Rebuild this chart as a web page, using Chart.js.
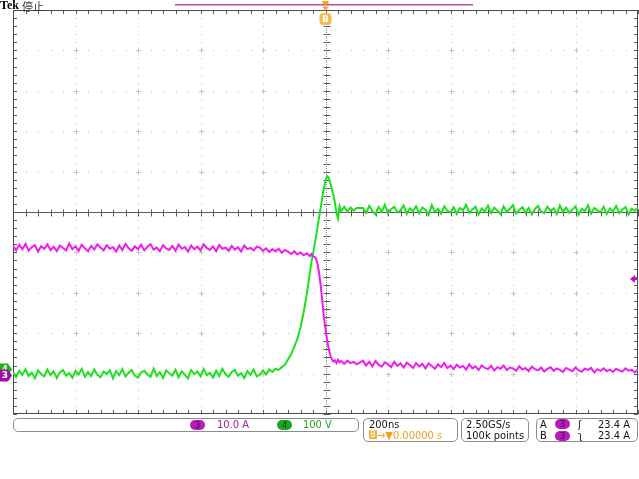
<!DOCTYPE html>
<html>
<head>
<meta charset="utf-8">
<script src="https://cdn.jsdelivr.net/npm/chart.js@4.4.1/dist/chart.umd.min.js"></script>
<style>
  html, body { margin: 0; padding: 0; background: #fff; }
  #wrap { position: relative; width: 639px; height: 479px; overflow: hidden;
          font-family: "DejaVu Sans Condensed", "DejaVu Sans", sans-serif; font-stretch: condensed; font-size: 11px; }
  #scope { position: absolute; left: 0; top: 0; }
  .lbl { position: absolute; white-space: nowrap; line-height: 11px; }
  .box { position: absolute; border: 1px solid #8c8c8c; border-radius: 5px; box-sizing: border-box; }
  .pill { position: absolute; width: 15px; height: 10px; border-radius: 5px; font-size: 9px;
          line-height: 10px; text-align: center; }
</style>
</head>
<body>
<div id="wrap">
  <canvas id="scope" width="639" height="479"></canvas>

  <div class="lbl" style="left:0;top:-2px;font:bold 12px 'Liberation Serif',serif;">Tek</div>
  <div class="lbl" style="left:22px;top:-2px;font:11px 'Noto Sans CJK SC',sans-serif;color:#333;">停止</div>

  <!-- channel readout -->
  <div class="box" style="left:13px;top:418px;width:346px;height:14px;"></div>
  <div class="pill" style="left:190px;top:420px;background:#b81cb8;color:#4a004a;">3</div>
  <div class="lbl" style="left:217px;top:419px;color:#a020a0;">10.0 A</div>
  <div class="pill" style="left:277px;top:420px;background:#1ca81c;color:#003a00;">4</div>
  <div class="lbl" style="left:303px;top:419px;color:#20a020;">100 V</div>

  <!-- horizontal readout -->
  <div class="box" style="left:363px;top:418px;width:95px;height:24px;"></div>
  <div class="lbl" style="left:369px;top:419px;color:#111;">200ns</div>
  <div class="lbl" style="left:369px;top:430px;color:#f0a020;"><span style="display:inline-block;width:8px;height:9px;background:#f5b040;color:#fff;font-size:8px;line-height:9px;text-align:center;border-radius:1px;vertical-align:top;">B</span>→▼0.00000 s</div>

  <!-- acquisition readout -->
  <div class="box" style="left:461px;top:418px;width:68px;height:24px;"></div>
  <div class="lbl" style="left:466px;top:419px;color:#111;">2.50GS/s</div>
  <div class="lbl" style="left:466px;top:430px;color:#111;">100k points</div>

  <!-- trigger readout -->
  <div class="box" style="left:536px;top:418px;width:102px;height:24px;"></div>
  <div class="lbl" style="left:540px;top:419px;color:#111;">A</div>
  <div class="pill" style="left:555px;top:419px;background:#b81cb8;color:#4a004a;">3</div>
  <div class="lbl" style="left:578px;top:419px;color:#111;">ʃ</div>
  <div class="lbl" style="left:598px;top:419px;color:#111;">23.4 A</div>
  <div class="lbl" style="left:540px;top:430px;color:#111;">B</div>
  <div class="pill" style="left:555px;top:431px;background:#b81cb8;color:#4a004a;">3</div>
  <div class="lbl" style="left:578px;top:430px;color:#111;">ʅ</div>
  <div class="lbl" style="left:598px;top:430px;color:#111;">23.4 A</div>
</div>

<script>
  "use strict";

  // ── Acquisition data ───────────────────────────────────────

  // sample times, ns (trigger at 0)
  var timeNs = [
    -1000, -990, -980, -970, -960, -950, -940, -930, -920, -910,
    -900, -890, -880, -870, -860, -850, -840, -830, -820, -810,
    -800, -790, -780, -770, -760, -750, -740, -730, -720, -710,
    -700, -690, -680, -670, -660, -650, -640, -630, -620, -610,
    -600, -590, -580, -570, -560, -550, -540, -530, -520, -510,
    -500, -490, -480, -470, -460, -450, -440, -430, -420, -410,
    -400, -390, -380, -370, -360, -350, -340, -330, -320, -310,
    -300, -290, -280, -270, -260, -250, -240, -230, -220,
    -210, -200, -190, -180, -170, -160, -150, -140, -130, -120,
    -110, -100, -90, -80, -70, -60, -50, -45, -40, -35,
    -30, -25, -20, -15, -10, -5, 0, 5, 10, 15,
    20, 25, 30, 35, 40, 45, 50, 60, 70, 80,
    90, 100,
    120, 130, 140, 150, 160, 170, 180, 190, 200, 210,
    220, 230, 240, 250, 260, 270, 280, 290, 300, 310,
    320, 330, 340, 350, 360, 370, 380, 390, 400, 410,
    420, 430, 440, 450, 460, 470, 480, 490, 500, 510,
    520, 530, 540, 550, 560, 570, 580, 590, 600, 610,
    620, 630, 640, 650, 660, 670, 680, 690, 700, 710,
    720, 730, 740, 750, 760, 770, 780, 790, 800, 810,
    820, 830, 840, 850, 860, 870, 880, 890, 900, 910,
    920, 930, 940, 950, 960, 970, 980, 990, 1000
  ];

  // CH4 voltage, V
  var ch4Volts = [
    4, -9, 7, -3, 11, -6, 2, -12, 8, -1,
    -7, 10, -4, 6, -11, 3, 9, -5, 1, -10,
    7, -2, 12, -8, 4, -6, 10, -3, -9, 5,
    -1, 8, -12, 6, -4, 11, -7, 2, 9, -5,
    -10, 3, 7, -2, -8, 12, -6, 4, -11, 8,
    1, -5, 10, -9, 6, -3, -12, 9, -1, 5,
    -7, 11, -4, 2, -10, 7, -6, 12, -2, -8,
    4, 9, -5, 1, -11, 6, -3, 10, -7,
    -3, 8, -2, 10, 4, 12, 9, 16, 22, 35,
    48, 66, 86, 114, 152, 196, 250, 276, 296, 318,
    340, 364, 390, 412, 438, 460, 478, 489, 486, 472,
    458, 443, 424, 398, 384, 414, 402, 413, 401, 411,
    404, 410,
    410, 398, 415, 403, 394, 412, 401, 418, 396, 407,
    413, 399, 404, 416, 395, 409, 402, 414, 397, 411,
    405, 393, 417, 400, 408, 396, 414, 403, 399, 412,
    395, 410, 404, 418, 398, 406, 413, 394, 409, 401,
    416, 397, 411, 403, 395, 414, 400, 408, 417, 396,
    405, 412, 398, 410, 394, 407, 415, 401, 397, 413,
    403, 409, 395, 416, 400, 411, 398, 406, 414, 393,
    408, 402, 417, 396, 410, 404, 399, 413, 395, 409,
    401, 415, 397, 406, 412, 394, 408, 403, 411
  ];

  // CH3 current, A
  var ch3Amps = [
    31.6, 30.5, 31.9, 30.8, 32.1, 30.4, 31.3, 31.8, 30.2, 31.5,
    30.9, 32.0, 30.6, 31.4, 30.3, 31.7, 31.1, 30.5, 32.2, 30.8,
    31.5, 30.4, 31.9, 31.0, 30.3, 31.6, 30.7, 32.0, 31.2, 30.5,
    31.8, 30.9, 31.3, 30.2, 31.7, 30.6, 32.1, 31.0, 30.4, 31.5,
    30.8, 31.9, 30.5, 31.4, 32.0, 30.7, 31.2, 30.3, 31.8, 31.0,
    30.6, 31.6, 30.4, 31.9, 30.9, 31.3, 30.2, 31.7, 30.8, 31.4,
    30.5, 32.0, 31.1, 30.6, 31.5, 30.3, 31.8, 30.9, 31.2, 30.4,
    31.6, 30.7, 31.3, 30.2, 31.7, 30.8, 31.1, 30.5, 31.4,
    31.2, 30.4, 31.0, 30.1, 30.8, 30.3, 30.9, 29.9, 30.6, 30.2,
    29.6, 30.3, 29.5, 30.0, 29.3, 29.8, 29.1, 29.6, 29.0, 28.9,
    28.4, 27.0, 24.6, 21.6, 17.6, 14.0, 11.0, 8.4, 6.2, 4.6,
    3.6, 3.0, 3.3, 2.6, 3.4, 2.8, 3.1, 2.4, 3.2, 2.6,
    2.9, 2.3,
    3.2, 2.0, 2.9, 1.8, 3.1, 2.2, 1.7, 2.8, 2.3, 1.6,
    2.9, 1.9, 2.5, 1.5, 2.7, 2.1, 1.4, 2.6, 1.8, 2.4,
    1.3, 2.5, 1.9, 1.2, 2.3, 1.6, 2.6, 1.4, 2.0, 1.1,
    2.2, 1.5, 1.9, 1.0, 2.3, 1.3, 1.8, 0.9, 2.0, 1.4,
    1.1, 1.9, 0.8, 1.6, 1.2, 2.0, 0.9, 1.5, 1.3, 0.7,
    1.8, 1.0, 1.4, 0.6, 1.7, 1.1, 0.8, 1.5, 0.5, 1.2,
    1.6, 0.7, 1.3, 0.9, 0.4, 1.4, 1.0, 0.6, 1.5, 0.8,
    0.5, 1.2, 0.9, 1.4, 0.3, 1.1, 0.7, 1.3, 0.6, 1.0,
    0.4, 1.2, 0.8, 0.5, 1.3, 0.7, 0.9, 0.3, 1.0
  ];

  // screen ranges: 10 div each way, ground one div above the bottom
  var timeRangeNs = [-1000, 1000];
  var ch4RangeV = [-100, 900];
  var ch3RangeA = [-10, 90];
  var trigLevelA = [23.4];

  // ── Colours ────────────────────────────────────────────────

  var CH3_COLOR = '#ee1cee';
  var CH4_COLOR = '#1ee01e';
  var ORANGE = '#f5a42a';

  function toPoints(values) {
    return values.map(function (v, i) { return { x: timeNs[i], y: v }; });
  }

  // ── Graticule (dotted divisions, ticked centre lines) ──────

  var graticule = {
    id: 'graticule',
    beforeDatasetsDraw: function (chart) {
      var ctx = chart.ctx;
      var a = chart.chartArea;
      var L = a.left, T = a.top, W = a.right - a.left, H = a.bottom - a.top;
      var dx = W / 10, dy = H / 10;
      var i, k;
      ctx.save();

      // dotted division lines
      ctx.fillStyle = '#bdbdbd';
      for (i = 1; i < 10; i++) {
        if (i === 5) continue;
        for (k = 0; k <= 50; k++) {
          ctx.fillRect(Math.round(L + k * dx / 5), Math.round(T + i * dy), 1, 1);
          ctx.fillRect(Math.round(L + i * dx), Math.round(T + k * dy / 5), 1, 1);
        }
      }
      // small crosses where divisions meet
      ctx.fillStyle = '#c4c4c4';
      for (i = 1; i < 10; i++) {
        for (k = 1; k < 10; k++) {
          var px = Math.round(L + i * dx), py = Math.round(T + k * dy);
          ctx.fillRect(px - 2, py, 5, 1);
          ctx.fillRect(px, py - 2, 1, 5);
        }
      }

      ctx.strokeStyle = '#5a5a5a';
      ctx.lineWidth = 1;
      var cx = Math.round(L + 5 * dx) + 0.5;
      var cy = Math.round(T + 5 * dy) + 0.5;

      ctx.beginPath();
      // horizontal centre line with ticks
      ctx.moveTo(L, cy); ctx.lineTo(a.right, cy);
      for (k = 0; k <= 50; k++) {
        var tx = Math.round(L + k * dx / 5) + 0.5;
        ctx.moveTo(tx, cy - 3); ctx.lineTo(tx, cy + 4);
      }
      // vertical centre ticks
      for (k = 0; k <= 50; k++) {
        var ty = Math.round(T + k * dy / 5) + 0.5;
        ctx.moveTo(cx - 3, ty); ctx.lineTo(cx + 4, ty);
      }
      // border ticks
      for (k = 0; k <= 50; k++) {
        var bx = Math.round(L + k * dx / 5) + 0.5;
        ctx.moveTo(bx, T); ctx.lineTo(bx, T + 4);
        ctx.moveTo(bx, a.bottom); ctx.lineTo(bx, a.bottom - 4);
        var by = Math.round(T + k * dy / 5) + 0.5;
        ctx.moveTo(L, by); ctx.lineTo(L + 4, by);
        ctx.moveTo(a.right, by); ctx.lineTo(a.right - 4, by);
      }
      ctx.stroke();

      // faint vertical centre line
      ctx.fillStyle = '#8a8a8a';
      for (k = 0; k < H; k += 2) ctx.fillRect(cx - 0.5, T + k, 1, 1);

      // border
      ctx.strokeStyle = '#4a4a4a';
      ctx.strokeRect(L + 0.5, T + 0.5, W - 1, H - 1);
      ctx.restore();
    }
  };

  // ── Scope markers (ground, trigger level, trigger position) ─

  var markers = {
    id: 'markers',
    afterDraw: function (chart) {
      var ctx = chart.ctx;
      var a = chart.chartArea;
      var yV0 = chart.scales.yV.getPixelForValue(0);
      var yA0 = chart.scales.yA.getPixelForValue(0);
      var xT = chart.scales.x.getPixelForValue(0);
      var yTrig = chart.scales.yA.getPixelForValue(trigLevelA[0]);
      ctx.save();

      function groundTag(y, fill, text, textColor) {
        ctx.beginPath();
        ctx.moveTo(0, y - 6);
        ctx.lineTo(8, y - 6);
        ctx.lineTo(12, y);
        ctx.lineTo(8, y + 6);
        ctx.lineTo(0, y + 6);
        ctx.closePath();
        ctx.fillStyle = fill;
        ctx.fill();
        ctx.fillStyle = textColor;
        ctx.font = 'bold 9px "DejaVu Sans"';
        ctx.textAlign = 'center';
        ctx.textBaseline = 'middle';
        ctx.fillText(text, 5, y + 0.5);
      }
      groundTag(yV0 - 4, '#1fb01f', '4', '#e8ffe8');
      groundTag(yA0 + 2, '#a010a0', '3', '#ffffff');

      // trigger level arrow
      ctx.fillStyle = '#c010c0';
      ctx.beginPath();
      ctx.moveTo(a.right - 8, yTrig);
      ctx.lineTo(a.right - 3, yTrig - 4);
      ctx.lineTo(a.right - 3, yTrig + 4);
      ctx.closePath();
      ctx.fill();
      ctx.fillRect(a.right - 3, yTrig - 1, 3, 2);

      // record view bar
      ctx.fillStyle = '#b4509f';
      ctx.fillRect(175, 4, 298, 1.5);

      // trigger position pin and B badge
      ctx.fillStyle = ORANGE;
      ctx.fillRect(xT - 3, 1, 6, 3);
      ctx.fillRect(xT - 1, 1, 2, 8);
      ctx.beginPath();
      ctx.moveTo(xT - 3, 7); ctx.lineTo(xT + 3, 7); ctx.lineTo(xT, 11);
      ctx.closePath();
      ctx.fill();
      ctx.beginPath();
      ctx.roundRect(xT - 6, 13, 12, 12, 4);
      ctx.fillStyle = '#f8b850';
      ctx.fill();
      ctx.fillStyle = '#ffffff';
      ctx.font = 'bold 9px "DejaVu Sans"';
      ctx.textAlign = 'center';
      ctx.textBaseline = 'middle';
      ctx.fillText('B', xT, 19.5);
      ctx.restore();
    }
  };

  // ── Chart ──────────────────────────────────────────────────

  new Chart(document.getElementById('scope').getContext('2d'), {
    type: 'line',
    data: {
      datasets: [{
        label: 'CH3',
        data: toPoints(ch3Amps),
        yAxisID: 'yA',
        borderColor: CH3_COLOR,
        borderWidth: 2,
        pointRadius: 0,
        tension: 0
      }, {
        label: 'CH4',
        data: toPoints(ch4Volts),
        yAxisID: 'yV',
        borderColor: CH4_COLOR,
        borderWidth: 2,
        pointRadius: 0,
        tension: 0
      }]
    },
    options: {
      responsive: false,
      animation: false,
      layout: { padding: { left: 13, top: 10, right: 1, bottom: 65 } },
      plugins: { legend: { display: false }, tooltip: { enabled: false } },
      scales: {
        x: { type: 'linear', min: timeRangeNs[0], max: timeRangeNs[1], display: false },
        yV: { type: 'linear', min: ch4RangeV[0], max: ch4RangeV[1], display: false },
        yA: { type: 'linear', min: ch3RangeA[0], max: ch3RangeA[1], display: false }
      }
    },
    plugins: [graticule, markers]
  });
</script>
</body>
</html>
